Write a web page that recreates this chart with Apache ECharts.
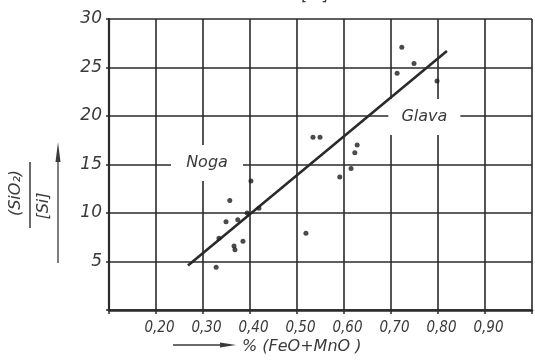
<!DOCTYPE html>
<html>
<head>
<meta charset="utf-8">
<script src="https://cdn.jsdelivr.net/npm/echarts@6/dist/echarts.min.js"></script>
<style>
html,body{margin:0;padding:0;background:#fff;}
#chart{width:535px;height:360px;}
</style>
</head>
<body>
<div id="chart"></div>
<script>
// Measured points: % (FeO+MnO) vs (SiO2)/[Si]
const pointsX = [0.402, 0.357, 0.349, 0.374, 0.334, 0.385, 0.366, 0.368, 0.328, 0.394, 0.419,
                 0.519, 0.591, 0.534, 0.549, 0.628, 0.623, 0.615,
                 0.723, 0.749, 0.713, 0.798];
const pointsY = [13.3, 11.3, 9.1, 9.3, 7.4, 7.1, 6.6, 6.2, 4.4, 10.0, 10.5,
                 7.9, 13.7, 17.8, 17.8, 17.0, 16.2, 14.6,
                 27.1, 25.4, 24.4, 23.6];
// Regression line end points
const lineX = [0.268, 0.819];
const lineY = [4.6, 26.7];
// Annotations
const annotText = ['Noga', 'Glava'];
const annotX = [0.3085, 0.771];
const annotY = [15.15, 19.9];
// Tick labels
const xTickValues = [0.2, 0.3, 0.4, 0.5, 0.6, 0.7, 0.8, 0.9];
const xTickLabels = ['0,20', '0,30', '0,40', '0,50', '0,60', '0,70', '0,80', '0,90'];
const yTickValues = [5, 10, 15, 20, 25, 30];
const yTickLabels = ['5', '10', '15', '20', '25', '30'];

const ink = '#2a2a2a';
const txt = '#3a3a3a';

const chart = echarts.init(document.getElementById('chart'), null, {renderer: 'canvas'});

function xLabel(v) {
  for (let i = 0; i < xTickValues.length; i++) {
    if (Math.abs(v - xTickValues[i]) < 1e-6) return xTickLabels[i];
  }
  return '';
}
function yLabel(v) {
  for (let i = 0; i < yTickValues.length; i++) {
    if (Math.abs(v - yTickValues[i]) < 1e-6) return yTickLabels[i];
  }
  return '';
}

const option = {
  animation: false,
  backgroundColor: '#fff',
  grid: {left: 109, right: 3, top: 19, bottom: 50, containLabel: false, show: false},
  xAxis: {
    type: 'value', min: 0.1, max: 1.0, interval: 0.1,
    axisLine: {show: true, lineStyle: {color: ink, width: 2.5}},
    axisTick: {show: true, length: 4, lineStyle: {color: ink, width: 1.5}},
    splitLine: {show: true, lineStyle: {color: ink, width: 1.6}},
    axisLabel: {
      formatter: xLabel, margin: 11, color: txt,
      fontFamily: 'DejaVu Sans Condensed', fontStyle: 'italic', fontSize: 15,
      padding: [0, 0, 0, 7]
    }
  },
  yAxis: {
    type: 'value', min: 0, max: 30, interval: 5,
    axisLine: {show: true, lineStyle: {color: ink, width: 2.2}},
    axisTick: {show: true, length: 3, lineStyle: {color: ink, width: 1.5}},
    splitLine: {show: true, lineStyle: {color: ink, width: 1.6}},
    axisLabel: {
      formatter: yLabel, margin: 7, color: txt,
      fontFamily: 'DejaVu Sans', fontStyle: 'italic', fontSize: 17
    }
  },
  series: [
    {
      type: 'custom', z: 2,
      data: annotX.map((x, i) => [x, annotY[i]]),
      renderItem: function (params, api) {
        const p = api.coord([api.value(0), api.value(1)]);
        return {
          type: 'group',
          children: [
            {type: 'rect', shape: {x: p[0] - 36, y: p[1] - 18, width: 72, height: 36}, style: {fill: '#fff'}},
            {type: 'text', x: p[0], y: p[1], style: {
              text: annotText[params.dataIndex], fill: txt,
              font: 'italic 16px "DejaVu Sans"', align: 'center', verticalAlign: 'middle'}}
          ]
        };
      }
    },
    {
      type: 'line', z: 3,
      data: lineX.map((x, i) => [x, lineY[i]]),
      symbol: 'none',
      lineStyle: {color: ink, width: 2.6}
    },
    {
      type: 'scatter', z: 4,
      data: pointsX.map((x, i) => [x, pointsY[i]]),
      symbolSize: 5,
      itemStyle: {color: '#1e1e1e'}
    }
  ],
  graphic: [
    // cropped top label
    {type: 'text', x: 310, y: -12, style: {text: 'A[Al]', font: 'italic 16px "DejaVu Sans"', fill: txt, align: 'center', verticalAlign: 'top'}},
    // y axis title (fraction, rotated)
    {type: 'text', x: 16, y: 193, rotation: Math.PI / 2,
     style: {text: '(SiO₂)', font: 'italic 16px "DejaVu Sans"', fill: txt, align: 'center', verticalAlign: 'middle'}},
    {type: 'line', shape: {x1: 30, y1: 162, x2: 30, y2: 228}, style: {stroke: txt, lineWidth: 1.5}},
    {type: 'text', x: 44, y: 206, rotation: Math.PI / 2,
     style: {text: '[Si]', font: 'italic 16px "DejaVu Sans"', fill: txt, align: 'center', verticalAlign: 'middle'}},
    {type: 'line', shape: {x1: 58, y1: 263, x2: 58, y2: 158}, style: {stroke: txt, lineWidth: 1.3}},
    {type: 'polygon', shape: {points: [[55.5, 162], [60.5, 162], [58, 142]]}, style: {fill: txt}},
    // x axis title
    {type: 'line', shape: {x1: 173, y1: 345, x2: 226, y2: 345}, style: {stroke: txt, lineWidth: 1.3}},
    {type: 'polygon', shape: {points: [[220, 342.5], [220, 347.5], [236, 345]]}, style: {fill: txt}},
    {type: 'text', x: 242, y: 347, style: {text: '% (FeO+MnO )', font: 'italic 16px "DejaVu Sans"', fill: txt, align: 'left', verticalAlign: 'middle'}}
  ]
};
chart.setOption(option);
</script>
</body>
</html>
